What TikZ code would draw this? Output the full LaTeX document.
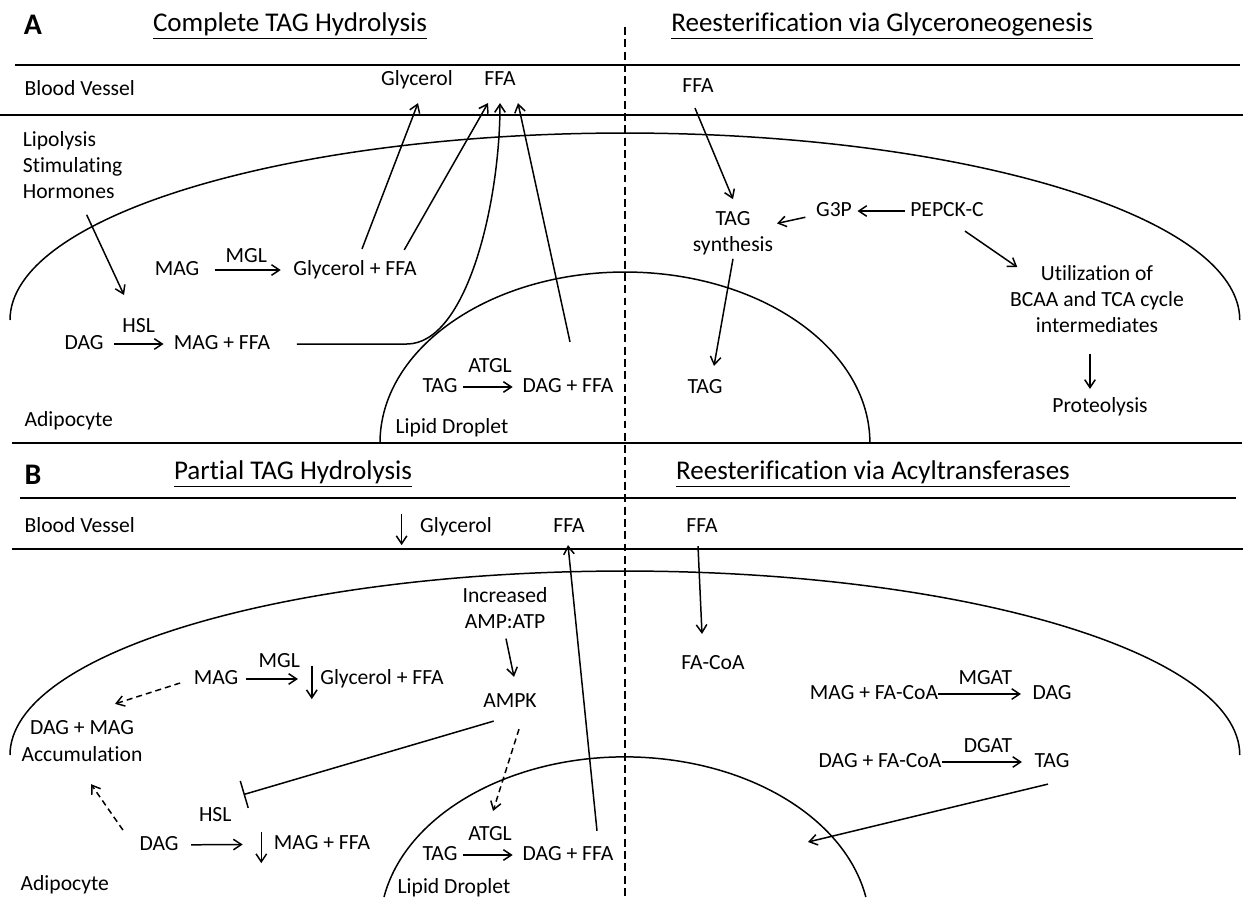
\documentclass[tikz,border=0pt]{standalone}
\usepackage{fontspec}
\setmainfont[Ligatures=NoCommon]{Carlito}
\usetikzlibrary{arrows.meta}

\begin{document}
\begin{tikzpicture}[x=0.02cm, y=-0.02cm,
        txt/.style={font=\fontsize{12.3}{15}\selectfont, inner xsep=3pt, inner ysep=2pt,
                    text height=8.5pt, text depth=2pt},
        multi/.style={font=\fontsize{12.3}{15}\selectfont, align=center, inner sep=2pt},
        heading/.style={font=\fontsize{15.4}{18}\selectfont},
        panel/.style={font=\fontsize{17}{19}\selectfont\bfseries},
        lbl/.style={txt, midway, above},
        arr/.style={-{Straight Barb[length=4.5pt,width=6pt]}, line width=0.85pt},
        darr/.style={arr, dash pattern=on 3.4pt off 2.3pt},
        inh/.style={-{Bar[width=16pt]}, line width=0.85pt},
        memb/.style={line width=0.85pt}
    ]
        \useasboundingbox (0,0) rectangle (1251,900);

        % frame lines and membranes
        \draw[memb] (15,65) -- (1240,65);
        \draw[memb] (0,115) -- (1243,115);
        \draw[memb] (12,443) -- (1242,443);
        \draw[memb] (20,498) -- (1236,498);
        \draw[memb] (12,549) -- (1243,549);
        \draw[memb, dash pattern=on 4.5pt off 2.5pt] (625,27) -- (625,897);
        \draw[memb] (10,320) arc[start angle=180, end angle=0, x radius=12.3cm, y radius=3.74cm];
        \draw[memb] (380,443) arc[start angle=180, end angle=0, x radius=4.9cm, y radius=3.42cm];
        \draw[memb] (10,755) arc[start angle=180, end angle=0, x radius=12.3cm, y radius=3.68cm];
        \draw[memb] (384,897) arc[start angle=169.6, end angle=10.4, x radius=4.9cm, y radius=3.42cm];

        % Panel A, left: complete hydrolysis
        \node[panel] (la) at (33,25) {A};
        \node[heading] (ttlA) at (290,26) {\underline{Complete TAG Hydrolysis}};
        \node[txt, anchor=west] (bvA) at (19,90) {Blood Vessel};
        \node[txt] (glyA) at (417,80) {Glycerol};
        \node[txt] (ffaA) at (500,80) {FFA};
        \node[multi, align=left, anchor=west] (hormA) at (19,165) {Lipolysis\\Stimulating\\Hormones};
        \coordinate (hslA) at (124,295);
        \node[txt] (magA) at (177,270) {MAG};
        \node[txt] (glyffaA) at (355,270) {Glycerol + FFA};
        \node[txt] (dagA) at (84,344) {DAG};
        \node[txt] (mffaA) at (222,344) {MAG + FFA};
        \node[txt] (tagA) at (440,387) {TAG};
        \node[txt] (dffaA) at (568,387) {DAG + FFA};
        \node[txt, anchor=west] (adipA) at (19,421) {Adipocyte};
        \node[txt] (lipA) at (452,428) {Lipid Droplet};

        \draw[arr] ([shift={(14,12)}]hormA.south) -- (hslA);
        \draw[arr, shorten <=5.8pt, shorten >=4pt] (magA) -- (glyffaA) node[lbl] {MGL};
        \draw[arr, shorten <=2.8pt, shorten >=2.7pt] (dagA) -- (mffaA) node[lbl, above=2.3pt] {HSL};
        \draw[arr, shorten >=2.5pt] (tagA) -- (dffaA) node[lbl, above=4pt] {ATGL};
        \draw[arr] ([shift={(7,-8)}]glyffaA.north) -- ([shift={(1,10)}]glyA.south);
        \draw[arr] ([shift={(-18,-7)}]glyffaA.north east) -- ([shift={(-12,10)}]ffaA.south);
        \draw[arr] ([xshift=12pt]mffaA.east) -- ++(110,0) .. controls +(60,0) and +(0,100) .. ([shift={(0,10)}]ffaA.south);
        \draw[arr] ([shift={(2,-32)}]dffaA.north) -- ([shift={(18,10)}]ffaA.south);

        % Panel A, right: glyceroneogenesis
        \node[heading] (ttlAR) at (882,26) {\underline{Reesterification via Glyceroneogenesis}};
        \node[txt] (ffaAR) at (698,87) {FFA};
        \node[multi] (tsyn) at (733,233) {TAG\\synthesis};
        \node[txt] (g3p) at (834,211) {G3P};
        \node[txt] (pepck) at (947,211) {PEPCK-C};
        \node[multi] (util) at (1097,299) {Utilization of\\BCAA and TCA cycle\\intermediates};
        \node[txt] (prot) at (1100,407) {Proteolysis};
        \node[txt] (tagAR) at (705,388) {TAG};

        \draw[arr] ([shift={(-3,8)}]ffaAR.south) -- ([shift={(0,-8)}]tsyn.north);
        \draw[arr, shorten <=3pt] (g3p) -- (tsyn);
        \draw[arr] (pepck) -- (g3p);
        \draw[arr] ([shift={(18,7)}]pepck.south) -- ([shift={(11,6)}]util.north west);
        \draw[arr] ([shift={(-7,17)}]util.south) -- ([shift={(-10,-5)}]prot.north);
        \draw[arr] (tsyn.south) -- ([shift={(9,-9)}]tagAR.north);

        % Panel B, left: partial hydrolysis
        \node[panel] (lb) at (33,475) {B};
        \node[heading] (ttlB) at (293,474) {\underline{Partial TAG Hydrolysis}};
        \node[txt, anchor=west] (bvB) at (19,527) {Blood Vessel};
        \node[txt] (glyB) at (456,527) {Glycerol};
        \node[txt] (ffaB) at (569,527) {FFA};
        \node[multi] (incr) at (505,608) {Increased\\AMP:ATP};
        \node[txt] (ampk) at (510,702) {AMPK};
        \node[txt] (magB) at (216,679) {MAG};
        \node[txt] (glyffaB) at (382,679) {Glycerol + FFA};
        \node[multi] (accum) at (82,741) {DAG + MAG\\Accumulation};
        \node[txt] (dagB) at (159,845) {DAG};
        \node[txt] (mffaB) at (322,844) {MAG + FFA};
        \node[txt, anchor=west] (adipB) at (15,885) {Adipocyte};
        \node[txt] (tagB) at (440,855) {TAG};
        \node[txt] (dffaB) at (568,855) {DAG + FFA};
        \node[txt] (lipB) at (454,888) {Lipid Droplet};

        \draw[arr, shorten <=1.3pt, shorten >=9.6pt] (magB) -- (glyffaB) node[lbl, above=2.3pt] {MGL};
        \draw[arr, shorten <=4pt, shorten >=14.6pt] (dagB) -- (mffaB) node[lbl, above=8.6pt, pos=0.37] (hslB) {HSL};
        \draw[arr, shorten >=2.5pt] (tagB) -- (dffaB) node[lbl, above=4pt] (atglB) {ATGL};
        \draw[arr] ([shift={(-13,0)}]glyB.north west) -- ([shift={(-13,5)}]glyB.south west);
        \draw[arr] ([shift={(-3,0)}]glyffaB.north west) -- ([shift={(-3,7)}]glyffaB.south west);
        \draw[arr] ([shift={(-7,1)}]mffaB.north west) -- ([shift={(-7,6)}]mffaB.south west);
        \draw[arr] ([shift={(29,-11)}]dffaB.north) -- ([shift={(-1,5)}]ffaB.south);
        \draw[arr] ([shift={(1,6)}]incr.south) -- ([shift={(4,-12)}]ampk.north);
        \draw[inh] ([shift={(16,6)}]ampk.south west) -- ([shift={(6,-8)}]hslB.north east);
        \draw[darr] ([shift={(9,14)}]ampk.south) -- ([shift={(3,-10)}]atglB.north);
        \draw[darr] ([shift={(-8,4)}]magB.west) -- ([shift={(33,-13)}]accum.north);
        \draw[darr] ([shift={(-11,-15)}]dagB.west) -- ([shift={(9,19)}]accum.south);

        % Panel B, right: acyltransferases
        \node[heading] (ttlBR) at (873,474) {\underline{Reesterification via Acyltransferases}};
        \node[txt] (ffaBR) at (702,527) {FFA};
        \node[txt] (facoa) at (713,664) {FA-CoA};
        \node[txt] (mfacoa) at (874,694) {MAG + FA-CoA};
        \node[txt] (dagBR) at (1052,694) {DAG};
        \node[txt] (dfacoa) at (880,762) {DAG + FA-CoA};
        \node[txt] (tagBR) at (1052,762) {TAG};
        \coordinate (ldB) at (808,842);

        \draw[arr] ([shift={(-4,6)}]ffaBR.south) -- ([shift={(-11,-17)}]facoa.north);
        \draw[arr, shorten <=-3pt, shorten >=3.4pt] (mfacoa) -- (dagBR) node[lbl, above=1.2pt] {MGAT};
        \draw[arr, shorten <=-3pt, shorten >=4pt] (dfacoa) -- (tagBR) node[lbl, above=0.8pt] {DGAT};
        \draw[arr] ([shift={(-4,9)}]tagBR.south) -- (ldB);
\end{tikzpicture}
\end{document}
